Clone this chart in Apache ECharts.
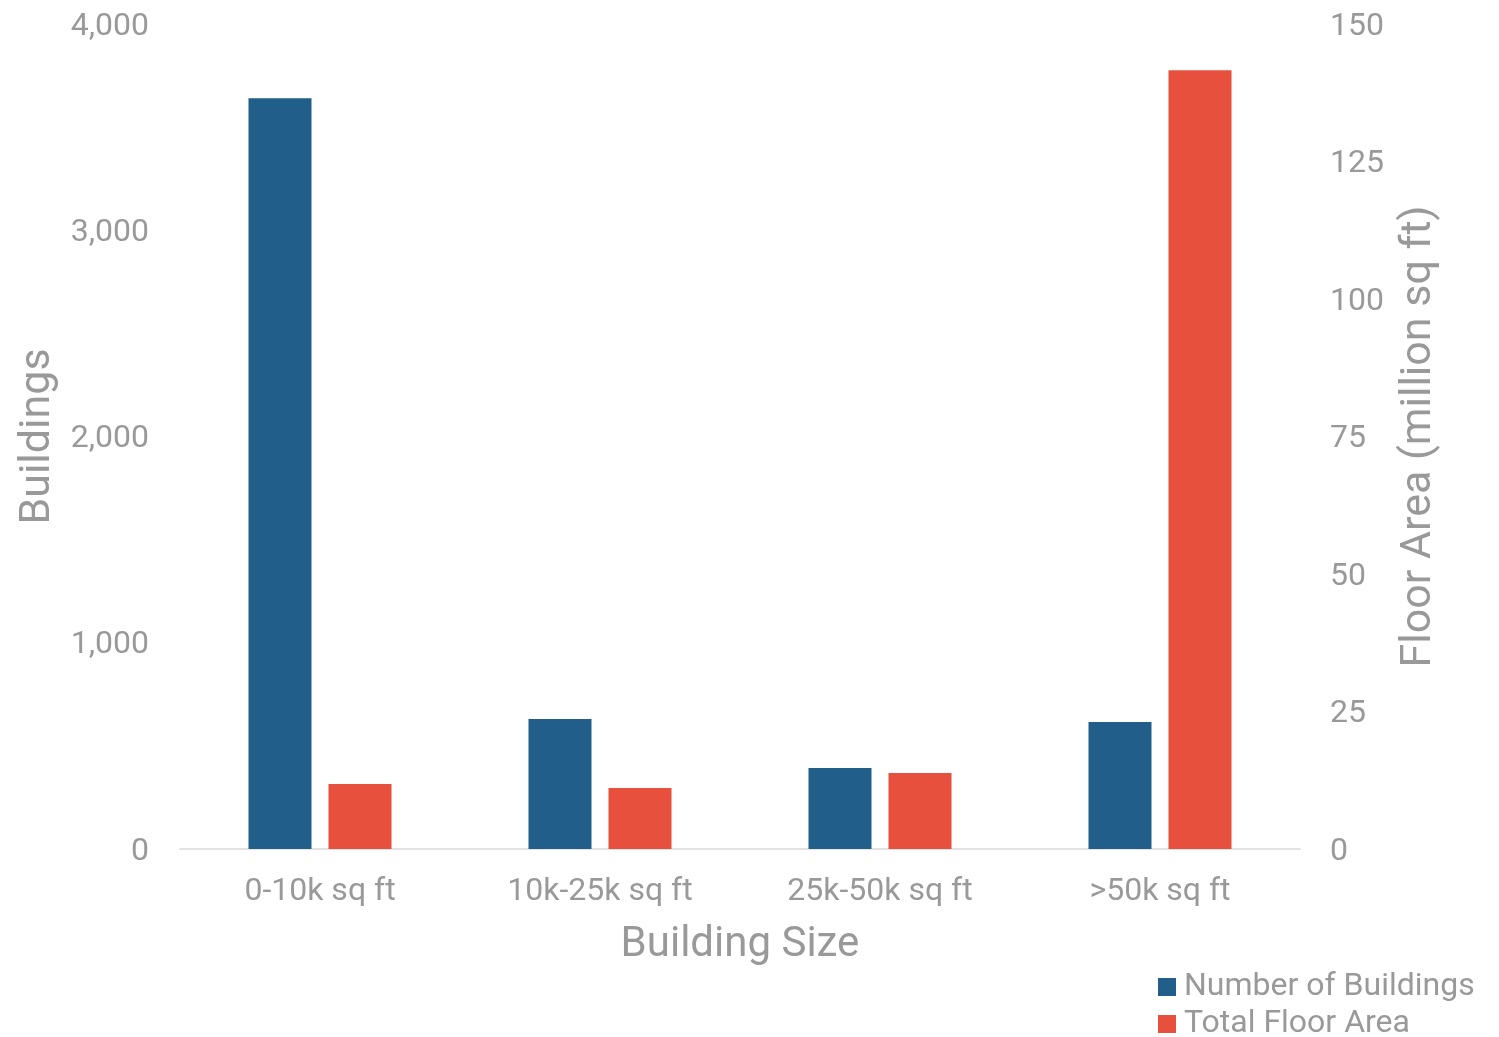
<!DOCTYPE html>
<html><head><meta charset="utf-8">
<script src="https://cdn.jsdelivr.net/npm/echarts@6/dist/echarts.min.js"></script>
<style>html,body{margin:0;padding:0;background:#fff}#c{width:1499px;height:1037px}</style>
</head><body><div id="c"></div>
<script>
const categories = ['0-10k sq ft', '10k-25k sq ft', '25k-50k sq ft', '>50k sq ft'];
const numberOfBuildings = [3640, 630, 393, 616];
const totalFloorArea = [11.8, 11.1, 13.8, 141.6];
const leftTicks = [0, 1000, 2000, 3000, 4000];
const rightTicks = [0, 25, 50, 75, 100, 125, 150];
const seriesNames = ['Number of Buildings', 'Total Floor Area'];

const gray = '#999999';
const font = 'Roboto';
const legendBase = {
  orient: 'vertical', left: 1153,
  itemWidth: 18, itemHeight: 18,
  icon: 'rect',
  textStyle: { color: gray, fontSize: 32, fontFamily: font, padding: [0, 0, 0, 3] }
};
const tickRich = { t: { color: gray, fontSize: 32, fontFamily: font, padding: [5, 0, 0, 0] } };
const chart = echarts.init(document.getElementById('c'));
chart.setOption({
  animation: false,
  textStyle: { fontFamily: font },
  grid: { left: 180, right: 199, top: 24, bottom: 188, containLabel: false },
  legend: [
    Object.assign({}, legendBase, { top: 966, data: [seriesNames[0]] }),
    Object.assign({}, legendBase, { top: 1003, data: [seriesNames[1]] })
  ],
  xAxis: {
    type: 'category', data: categories,
    name: 'Building Size', nameLocation: 'middle', nameGap: 75,
    nameTextStyle: { color: gray, fontSize: 42, fontFamily: font },
    axisLine: { lineStyle: { color: '#e3e3e3', width: 2 } },
    axisTick: { show: false },
    axisLabel: { color: gray, fontSize: 32, margin: 27, fontFamily: font }
  },
  yAxis: [{
    type: 'value', min: leftTicks[0], max: leftTicks[leftTicks.length - 1], interval: 1000,
    name: 'Buildings', nameLocation: 'middle', nameGap: 105,
    nameTextStyle: { color: gray, fontSize: 43, fontFamily: font },
    axisLine: { show: false }, axisTick: { show: false }, splitLine: { show: false },
    axisLabel: { color: gray, fontSize: 32, margin: 31, fontFamily: font, rich: tickRich,
      formatter: v => '{t|' + v.toLocaleString('en-US') + '}' }
  }, {
    type: 'value', min: rightTicks[0], max: rightTicks[rightTicks.length - 1], interval: 25,
    name: 'Floor Area (million sq ft)', nameLocation: 'middle', nameGap: 98, nameRotate: 90,
    nameTextStyle: { color: gray, fontSize: 43, fontFamily: font },
    axisLine: { show: false }, axisTick: { show: false }, splitLine: { show: false },
    axisLabel: { color: gray, fontSize: 32, margin: 30, fontFamily: font, rich: tickRich,
      formatter: v => '{t|' + v + '}' }
  }],
  series: [{
    name: seriesNames[0], type: 'bar', yAxisIndex: 0,
    data: numberOfBuildings, barWidth: 63, barGap: '27%',
    itemStyle: { color: '#225e8a' }
  }, {
    name: seriesNames[1], type: 'bar', yAxisIndex: 1,
    data: totalFloorArea, barWidth: 63, barGap: '27%',
    itemStyle: { color: '#e6503c' }
  }]
});
</script></body></html>
